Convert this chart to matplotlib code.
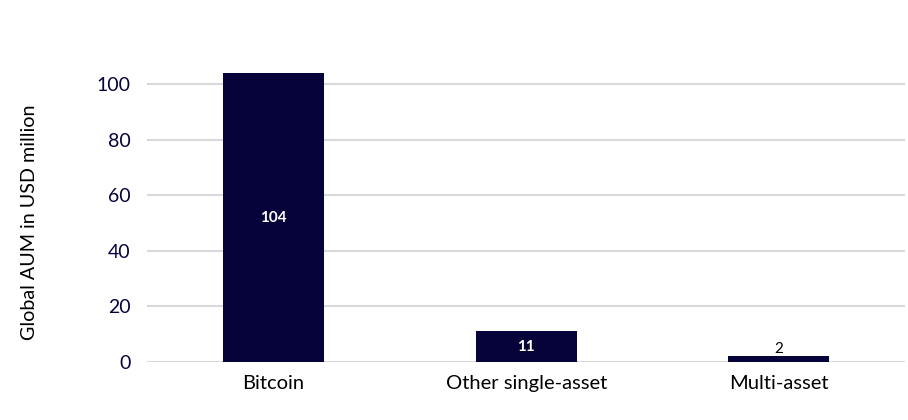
import matplotlib
matplotlib.use("Agg")
import matplotlib.pyplot as plt

categories = ["Bitcoin", "Other single-asset", "Multi-asset"]
values = [104, 11, 2]
yticks = [0, 20, 40, 60, 80, 100]

navy = "#06033a"
plt.rcParams['font.family'] = ['Lato', 'DejaVu Sans']

fig = plt.figure(figsize=(9.08, 4.2), dpi=100)
ax = fig.add_axes([0.162, 0.138, 0.835, 0.794])
x = list(range(len(categories)))
bars = ax.bar(x, values, width=0.4, color=navy, zorder=3)
ax.set_xlim(-0.5, 2.5)
ax.set_ylim(0, 120)
ax.set_yticks(yticks)
ax.set_yticklabels([str(t) for t in yticks], fontsize=14, color=navy)
ax.set_xticks(x)
ax.set_xticklabels(categories, fontsize=14.5, color="black")
ax.tick_params(axis='both', length=0, pad=12)
ax.tick_params(axis='x', pad=9)
for t in yticks:
    ax.axhline(t, color="#d9d9d9", lw=1.5, zorder=1)
for s in ax.spines.values():
    s.set_visible(False)
ax.set_ylabel("Global AUM in USD million", fontsize=14.2, color="black",
              va="center", rotation=90)
ax.yaxis.set_label_coords(-0.155, 0.42)

for i, v in enumerate(values):
    if v > 5:
        ax.text(i, v / 2, str(v), ha="center", va="center", color="white",
                fontsize=11, fontweight="bold", zorder=4)
    else:
        ax.text(i, v, str(v), ha="center", va="bottom", color="black",
                fontsize=11, zorder=4)

fig.savefig("out.png", dpi=100)
